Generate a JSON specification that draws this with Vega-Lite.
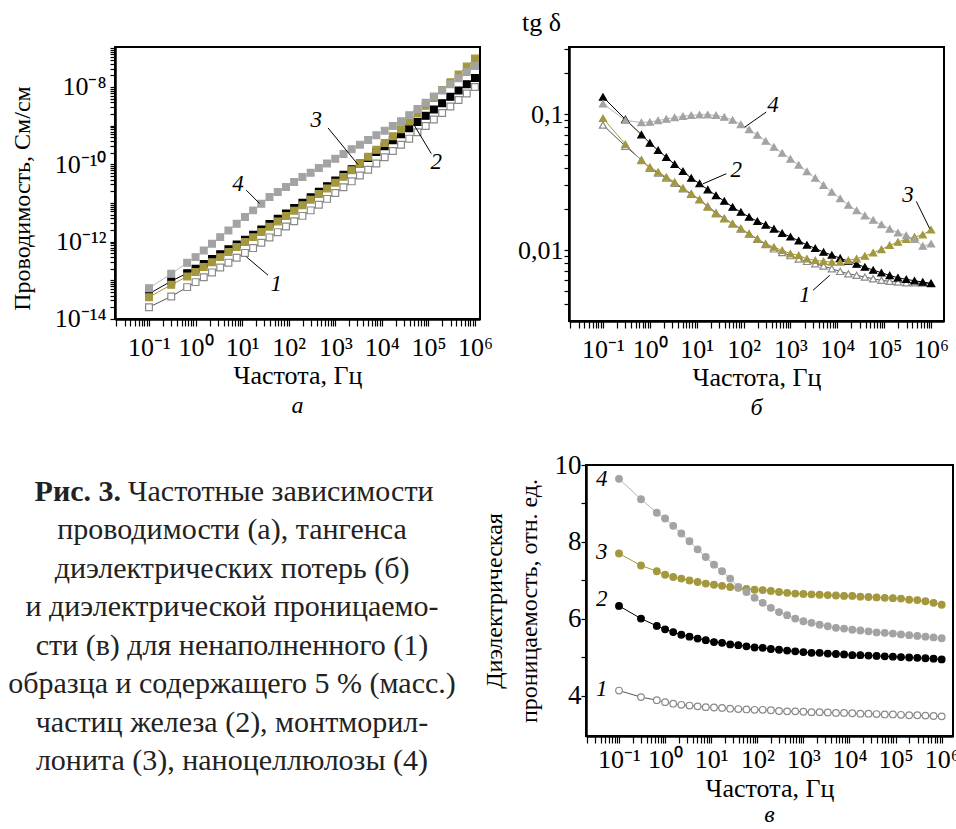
{
"$schema": "https://vega.github.io/schema/vega-lite/v6.json",
"background": "white",
"padding": {"left": 8, "top": 8, "right": 0, "bottom": 0},
"bounds": "flush",
"spacing": 418,
"datasets": {
"a": [
{"f":0.1,"s":1,"v":2.00e-14},{"f":0.3,"s":1,"v":3.79e-14},{"f":0.66,"s":1,"v":6.61e-14},{"f":1,"s":1,"v":8.91e-14},{"f":1.5,"s":1,"v":1.19e-13},{"f":2.25,"s":1,"v":1.59e-13},{"f":3.38,"s":1,"v":2.13e-13},{"f":5.08,"s":1,"v":2.84e-13},{"f":7.63,"s":1,"v":3.80e-13},{"f":11.5,"s":1,"v":5.08e-13},{"f":17.2,"s":1,"v":6.76e-13},{"f":25.8,"s":1,"v":9.29e-13},{"f":38.7,"s":1,"v":1.28e-12},{"f":58.2,"s":1,"v":1.75e-12},{"f":87.4,"s":1,"v":2.44e-12},{"f":131,"s":1,"v":3.35e-12},{"f":197,"s":1,"v":4.61e-12},{"f":296,"s":1,"v":6.40e-12},{"f":444,"s":1,"v":8.96e-12},{"f":666,"s":1,"v":1.27e-11},{"f":1000,"s":1,"v":1.80e-11},{"f":1500,"s":1,"v":2.55e-11},{"f":2250,"s":1,"v":3.61e-11},{"f":3380,"s":1,"v":5.10e-11},{"f":5080,"s":1,"v":7.23e-11},{"f":7630,"s":1,"v":1.04e-10},{"f":11500,"s":1,"v":1.51e-10},{"f":17200,"s":1,"v":2.20e-10},{"f":25800,"s":1,"v":3.18e-10},{"f":38700,"s":1,"v":4.59e-10},{"f":58200,"s":1,"v":6.70e-10},{"f":87400,"s":1,"v":9.77e-10},{"f":131000,"s":1,"v":1.44e-9},{"f":197000,"s":1,"v":2.12e-9},{"f":296000,"s":1,"v":3.13e-9},{"f":444000,"s":1,"v":4.61e-9},{"f":666000,"s":1,"v":6.79e-9},{"f":1000000,"s":1,"v":1.0e-8},
{"f":0.1,"s":2,"v":4.44e-14},{"f":0.3,"s":2,"v":9.45e-14},{"f":0.66,"s":2,"v":1.52e-13},{"f":1,"s":2,"v":1.97e-13},{"f":1.5,"s":2,"v":2.64e-13},{"f":2.25,"s":2,"v":3.52e-13},{"f":3.38,"s":2,"v":4.71e-13},{"f":5.08,"s":2,"v":6.30e-13},{"f":7.63,"s":2,"v":8.41e-13},{"f":11.5,"s":2,"v":1.12e-12},{"f":17.2,"s":2,"v":1.50e-12},{"f":25.8,"s":2,"v":2.06e-12},{"f":38.7,"s":2,"v":2.83e-12},{"f":58.2,"s":2,"v":3.89e-12},{"f":87.4,"s":2,"v":5.35e-12},{"f":131,"s":2,"v":7.35e-12},{"f":197,"s":2,"v":1.01e-11},{"f":296,"s":2,"v":1.39e-11},{"f":444,"s":2,"v":1.93e-11},{"f":666,"s":2,"v":2.70e-11},{"f":1000,"s":2,"v":3.79e-11},{"f":1500,"s":2,"v":5.31e-11},{"f":2250,"s":2,"v":7.45e-11},{"f":3380,"s":2,"v":1.04e-10},{"f":5080,"s":2,"v":1.46e-10},{"f":7630,"s":2,"v":2.07e-10},{"f":11500,"s":2,"v":2.94e-10},{"f":17200,"s":2,"v":4.20e-10},{"f":25800,"s":2,"v":6.00e-10},{"f":38700,"s":2,"v":8.59e-10},{"f":58200,"s":2,"v":1.24e-9},{"f":87400,"s":2,"v":1.79e-9},{"f":131000,"s":2,"v":2.61e-9},{"f":197000,"s":2,"v":3.81e-9},{"f":296000,"s":2,"v":5.56e-9},{"f":444000,"s":2,"v":8.11e-9},{"f":666000,"s":2,"v":1.18e-8},{"f":1000000,"s":2,"v":1.71e-8},
{"f":0.1,"s":3,"v":3.64e-14},{"f":0.3,"s":3,"v":7.59e-14},{"f":0.66,"s":3,"v":1.25e-13},{"f":1,"s":3,"v":1.62e-13},{"f":1.5,"s":3,"v":2.18e-13},{"f":2.25,"s":3,"v":2.93e-13},{"f":3.38,"s":3,"v":3.95e-13},{"f":5.08,"s":3,"v":5.33e-13},{"f":7.63,"s":3,"v":7.18e-13},{"f":11.5,"s":3,"v":9.66e-13},{"f":17.2,"s":3,"v":1.30e-12},{"f":25.8,"s":3,"v":1.77e-12},{"f":38.7,"s":3,"v":2.42e-12},{"f":58.2,"s":3,"v":3.32e-12},{"f":87.4,"s":3,"v":4.56e-12},{"f":131,"s":3,"v":6.27e-12},{"f":197,"s":3,"v":8.70e-12},{"f":296,"s":3,"v":1.21e-11},{"f":444,"s":3,"v":1.69e-11},{"f":666,"s":3,"v":2.37e-11},{"f":1000,"s":3,"v":3.33e-11},{"f":1500,"s":3,"v":4.71e-11},{"f":2250,"s":3,"v":6.95e-11},{"f":3380,"s":3,"v":1.04e-10},{"f":5080,"s":3,"v":1.57e-10},{"f":7630,"s":3,"v":2.36e-10},{"f":11500,"s":3,"v":3.55e-10},{"f":17200,"s":3,"v":5.33e-10},{"f":25800,"s":3,"v":8.01e-10},{"f":38700,"s":3,"v":1.28e-9},{"f":58200,"s":3,"v":2.04e-9},{"f":87400,"s":3,"v":3.25e-9},{"f":131000,"s":3,"v":5.19e-9},{"f":197000,"s":3,"v":8.28e-9},{"f":296000,"s":3,"v":1.32e-8},{"f":444000,"s":3,"v":2.11e-8},{"f":666000,"s":3,"v":3.36e-8},{"f":1000000,"s":3,"v":5.42e-8},
{"f":0.1,"s":4,"v":6.22e-14},{"f":0.3,"s":4,"v":1.46e-13},{"f":0.66,"s":4,"v":2.82e-13},{"f":1,"s":4,"v":3.95e-13},{"f":1.5,"s":4,"v":5.89e-13},{"f":2.25,"s":4,"v":8.75e-13},{"f":3.38,"s":4,"v":1.30e-12},{"f":5.08,"s":4,"v":1.94e-12},{"f":7.63,"s":4,"v":2.88e-12},{"f":11.5,"s":4,"v":4.30e-12},{"f":17.2,"s":4,"v":6.40e-12},{"f":25.8,"s":4,"v":9.52e-12},{"f":38.7,"s":4,"v":1.42e-11},{"f":58.2,"s":4,"v":1.91e-11},{"f":87.4,"s":4,"v":2.57e-11},{"f":131,"s":4,"v":3.46e-11},{"f":197,"s":4,"v":4.67e-11},{"f":296,"s":4,"v":6.04e-11},{"f":444,"s":4,"v":7.98e-11},{"f":666,"s":4,"v":1.05e-10},{"f":1000,"s":4,"v":1.39e-10},{"f":1500,"s":4,"v":1.84e-10},{"f":2250,"s":4,"v":2.43e-10},{"f":3380,"s":4,"v":3.21e-10},{"f":5080,"s":4,"v":4.24e-10},{"f":7630,"s":4,"v":5.60e-10},{"f":11500,"s":4,"v":7.40e-10},{"f":17200,"s":4,"v":9.77e-10},{"f":25800,"s":4,"v":1.29e-9},{"f":38700,"s":4,"v":1.86e-9},{"f":58200,"s":4,"v":2.69e-9},{"f":87400,"s":4,"v":3.89e-9},{"f":131000,"s":4,"v":5.62e-9},{"f":197000,"s":4,"v":8.11e-9},{"f":296000,"s":4,"v":1.17e-8},{"f":444000,"s":4,"v":1.68e-8},{"f":666000,"s":4,"v":2.42e-8},{"f":1000000,"s":4,"v":3.50e-8}
],
"aT": [{"f":8.15,"v":3.16e-11,"t":"4"},{"f":391,"v":1.38e-9,"t":"3"},{"f":147600,"v":1.15e-10,"t":"2"},{"f":54.2,"v":8.18e-14,"t":"1"}],
"aR": [{"f":12.3,"v":2.13e-11,"f2":23.8,"v2":9.6e-12},{"f":698,"v":8.71e-10,"f2":3076,"v2":9.8e-11},{"f":115300,"v":1.88e-10,"f2":50700,"v2":9.8e-10},{"f":35.9,"v":1.35e-13,"f2":12.3,"v2":4.02e-13}],
"b": [
{"f":0.1,"s":1,"v":0.0830},{"f":0.3,"s":1,"v":0.0580},{"f":0.66,"s":1,"v":0.0460},{"f":1,"s":1,"v":0.0400},{"f":1.5,"s":1,"v":0.0368},{"f":2.25,"s":1,"v":0.0338},{"f":3.38,"s":1,"v":0.0310},{"f":5.08,"s":1,"v":0.0282},{"f":7.63,"s":1,"v":0.0257},{"f":11.5,"s":1,"v":0.0234},{"f":17.2,"s":1,"v":0.0210},{"f":25.8,"s":1,"v":0.0188},{"f":38.7,"s":1,"v":0.0171},{"f":58.2,"s":1,"v":0.0156},{"f":87.4,"s":1,"v":0.0143},{"f":131,"s":1,"v":0.0131},{"f":197,"s":1,"v":0.0120},{"f":296,"s":1,"v":0.0110},{"f":444,"s":1,"v":0.0102},{"f":666,"s":1,"v":0.0096},{"f":1000,"s":1,"v":0.0091},{"f":1500,"s":1,"v":0.0086},{"f":2250,"s":1,"v":0.00826},{"f":3380,"s":1,"v":0.00793},{"f":5080,"s":1,"v":0.00763},{"f":7630,"s":1,"v":0.00729},{"f":11500,"s":1,"v":0.00697},{"f":17200,"s":1,"v":0.00669},{"f":25800,"s":1,"v":0.00652},{"f":38700,"s":1,"v":0.00633},{"f":58200,"s":1,"v":0.00615},{"f":87400,"s":1,"v":0.00599},{"f":131000,"s":1,"v":0.00589},{"f":197000,"s":1,"v":0.00582},{"f":296000,"s":1,"v":0.00575},{"f":444000,"s":1,"v":0.00575},{"f":666000,"s":1,"v":0.00572},{"f":1000000,"s":1,"v":0.00565},
{"f":0.1,"s":2,"v":0.1334},{"f":0.3,"s":2,"v":0.0914},{"f":0.66,"s":2,"v":0.0705},{"f":1,"s":2,"v":0.0612},{"f":1.5,"s":2,"v":0.0541},{"f":2.25,"s":2,"v":0.0481},{"f":3.38,"s":2,"v":0.0427},{"f":5.08,"s":2,"v":0.0379},{"f":7.63,"s":2,"v":0.0338},{"f":11.5,"s":2,"v":0.0308},{"f":17.2,"s":2,"v":0.0278},{"f":25.8,"s":2,"v":0.0252},{"f":38.7,"s":2,"v":0.0229},{"f":58.2,"s":2,"v":0.0207},{"f":87.4,"s":2,"v":0.0190},{"f":131,"s":2,"v":0.0175},{"f":197,"s":2,"v":0.0163},{"f":296,"s":2,"v":0.0153},{"f":444,"s":2,"v":0.0143},{"f":666,"s":2,"v":0.0133},{"f":1000,"s":2,"v":0.0125},{"f":1500,"s":2,"v":0.0117},{"f":2250,"s":2,"v":0.0109},{"f":3380,"s":2,"v":0.0103},{"f":5080,"s":2,"v":0.00966},{"f":7630,"s":2,"v":0.00918},{"f":11500,"s":2,"v":0.00872},{"f":17200,"s":2,"v":0.00829},{"f":25800,"s":2,"v":0.00788},{"f":38700,"s":2,"v":0.00749},{"f":58200,"s":2,"v":0.00713},{"f":87400,"s":2,"v":0.00681},{"f":131000,"s":2,"v":0.00651},{"f":197000,"s":2,"v":0.00626},{"f":296000,"s":2,"v":0.00609},{"f":444000,"s":2,"v":0.00595},{"f":666000,"s":2,"v":0.00582},{"f":1000000,"s":2,"v":0.00570},
{"f":0.1,"s":3,"v":0.0930},{"f":0.3,"s":3,"v":0.0600},{"f":0.66,"s":3,"v":0.0456},{"f":1,"s":3,"v":0.0407},{"f":1.5,"s":3,"v":0.0375},{"f":2.25,"s":3,"v":0.0344},{"f":3.38,"s":3,"v":0.0316},{"f":5.08,"s":3,"v":0.0286},{"f":7.63,"s":3,"v":0.0260},{"f":11.5,"s":3,"v":0.0236},{"f":17.2,"s":3,"v":0.0207},{"f":25.8,"s":3,"v":0.0185},{"f":38.7,"s":3,"v":0.0170},{"f":58.2,"s":3,"v":0.0156},{"f":87.4,"s":3,"v":0.0144},{"f":131,"s":3,"v":0.0132},{"f":197,"s":3,"v":0.0121},{"f":296,"s":3,"v":0.01113},{"f":444,"s":3,"v":0.01052},{"f":666,"s":3,"v":0.00995},{"f":1000,"s":3,"v":0.00940},{"f":1500,"s":3,"v":0.00915},{"f":2250,"s":3,"v":0.00863},{"f":3380,"s":3,"v":0.00840},{"f":5080,"s":3,"v":0.00826},{"f":7630,"s":3,"v":0.00816},{"f":11500,"s":3,"v":0.00816},{"f":17200,"s":3,"v":0.00840},{"f":25800,"s":3,"v":0.00863},{"f":38700,"s":3,"v":0.00904},{"f":58200,"s":3,"v":0.00955},{"f":87400,"s":3,"v":0.01011},{"f":131000,"s":3,"v":0.01083},{"f":197000,"s":3,"v":0.01146},{"f":296000,"s":3,"v":0.01199},{"f":444000,"s":3,"v":0.01247},{"f":666000,"s":3,"v":0.01296},{"f":1000000,"s":3,"v":0.01410},
{"f":0.1,"s":4,"v":0.1190},{"f":0.3,"s":4,"v":0.0899},{"f":0.66,"s":4,"v":0.0866},{"f":1,"s":4,"v":0.0873},{"f":1.5,"s":4,"v":0.0896},{"f":2.25,"s":4,"v":0.0919},{"f":3.38,"s":4,"v":0.0943},{"f":5.08,"s":4,"v":0.0962},{"f":7.63,"s":4,"v":0.0978},{"f":11.5,"s":4,"v":0.0988},{"f":17.2,"s":4,"v":0.0988},{"f":25.8,"s":4,"v":0.0978},{"f":38.7,"s":4,"v":0.0950},{"f":58.2,"s":4,"v":0.0903},{"f":87.4,"s":4,"v":0.0837},{"f":131,"s":4,"v":0.0769},{"f":197,"s":4,"v":0.0701},{"f":296,"s":4,"v":0.0633},{"f":444,"s":4,"v":0.0572},{"f":666,"s":4,"v":0.0516},{"f":1000,"s":4,"v":0.0467},{"f":1500,"s":4,"v":0.0422},{"f":2250,"s":4,"v":0.0378},{"f":3380,"s":4,"v":0.0338},{"f":5080,"s":4,"v":0.0300},{"f":7630,"s":4,"v":0.0267},{"f":11500,"s":4,"v":0.0239},{"f":17200,"s":4,"v":0.0214},{"f":25800,"s":4,"v":0.0195},{"f":38700,"s":4,"v":0.0179},{"f":58200,"s":4,"v":0.0166},{"f":87400,"s":4,"v":0.0154},{"f":131000,"s":4,"v":0.0143},{"f":197000,"s":4,"v":0.0134},{"f":296000,"s":4,"v":0.0128},{"f":444000,"s":4,"v":0.0120},{"f":666000,"s":4,"v":0.0107},{"f":1000000,"s":4,"v":0.0111}
],
"bT": [{"f":425,"v":0.116,"t":"4"},{"f":70,"v":0.0385,"t":"2"},{"f":323000,"v":0.0252,"t":"3"},{"f":2014,"v":0.00465,"t":"1"}],
"bR": [{"f":305,"v":0.1035,"f2":106,"v2":0.0802},{"f":42.8,"v":0.0364,"f2":13.6,"v2":0.0307},{"f":485000,"v":0.0228,"f2":937000,"v2":0.01436},{"f":3027,"v":0.00506,"f2":6890,"v2":0.00652}],
"c": [
{"f":0.1,"s":1,"v":4.14},{"f":0.3,"s":1,"v":3.97},{"f":0.66,"s":1,"v":3.89},{"f":1,"s":1,"v":3.84},{"f":1.5,"s":1,"v":3.80},{"f":2.25,"s":1,"v":3.77},{"f":3.38,"s":1,"v":3.75},{"f":5.08,"s":1,"v":3.73},{"f":7.63,"s":1,"v":3.71},{"f":11.5,"s":1,"v":3.70},{"f":17.2,"s":1,"v":3.69},{"f":25.8,"s":1,"v":3.67},{"f":38.7,"s":1,"v":3.66},{"f":58.2,"s":1,"v":3.65},{"f":87.4,"s":1,"v":3.64},{"f":131,"s":1,"v":3.64},{"f":197,"s":1,"v":3.63},{"f":296,"s":1,"v":3.61},{"f":444,"s":1,"v":3.60},{"f":666,"s":1,"v":3.60},{"f":1000,"s":1,"v":3.59},{"f":1500,"s":1,"v":3.58},{"f":2250,"s":1,"v":3.58},{"f":3380,"s":1,"v":3.57},{"f":5080,"s":1,"v":3.56},{"f":7630,"s":1,"v":3.56},{"f":11500,"s":1,"v":3.55},{"f":17200,"s":1,"v":3.54},{"f":25800,"s":1,"v":3.54},{"f":38700,"s":1,"v":3.53},{"f":58200,"s":1,"v":3.52},{"f":87400,"s":1,"v":3.52},{"f":131000,"s":1,"v":3.51},{"f":197000,"s":1,"v":3.50},{"f":296000,"s":1,"v":3.50},{"f":444000,"s":1,"v":3.49},{"f":666000,"s":1,"v":3.48},{"f":1000000,"s":1,"v":3.47},
{"f":0.1,"s":2,"v":6.34},{"f":0.3,"s":2,"v":6.01},{"f":0.66,"s":2,"v":5.82},{"f":1,"s":2,"v":5.73},{"f":1.5,"s":2,"v":5.66},{"f":2.25,"s":2,"v":5.59},{"f":3.38,"s":2,"v":5.54},{"f":5.08,"s":2,"v":5.49},{"f":7.63,"s":2,"v":5.45},{"f":11.5,"s":2,"v":5.40},{"f":17.2,"s":2,"v":5.38},{"f":25.8,"s":2,"v":5.34},{"f":38.7,"s":2,"v":5.32},{"f":58.2,"s":2,"v":5.29},{"f":87.4,"s":2,"v":5.26},{"f":131,"s":2,"v":5.25},{"f":197,"s":2,"v":5.22},{"f":296,"s":2,"v":5.20},{"f":444,"s":2,"v":5.18},{"f":666,"s":2,"v":5.16},{"f":1000,"s":2,"v":5.14},{"f":1500,"s":2,"v":5.12},{"f":2250,"s":2,"v":5.12},{"f":3380,"s":2,"v":5.10},{"f":5080,"s":2,"v":5.09},{"f":7630,"s":2,"v":5.08},{"f":11500,"s":2,"v":5.06},{"f":17200,"s":2,"v":5.06},{"f":25800,"s":2,"v":5.05},{"f":38700,"s":2,"v":5.04},{"f":58200,"s":2,"v":5.03},{"f":87400,"s":2,"v":5.02},{"f":131000,"s":2,"v":5.01},{"f":197000,"s":2,"v":5.00},{"f":296000,"s":2,"v":4.99},{"f":444000,"s":2,"v":4.98},{"f":666000,"s":2,"v":4.97},{"f":1000000,"s":2,"v":4.95},
{"f":0.1,"s":3,"v":7.70},{"f":0.3,"s":3,"v":7.39},{"f":0.66,"s":3,"v":7.24},{"f":1,"s":3,"v":7.15},{"f":1.5,"s":3,"v":7.09},{"f":2.25,"s":3,"v":7.05},{"f":3.38,"s":3,"v":7.00},{"f":5.08,"s":3,"v":6.96},{"f":7.63,"s":3,"v":6.92},{"f":11.5,"s":3,"v":6.89},{"f":17.2,"s":3,"v":6.86},{"f":25.8,"s":3,"v":6.83},{"f":38.7,"s":3,"v":6.81},{"f":58.2,"s":3,"v":6.78},{"f":87.4,"s":3,"v":6.76},{"f":131,"s":3,"v":6.75},{"f":197,"s":3,"v":6.73},{"f":296,"s":3,"v":6.70},{"f":444,"s":3,"v":6.68},{"f":666,"s":3,"v":6.66},{"f":1000,"s":3,"v":6.65},{"f":1500,"s":3,"v":6.64},{"f":2250,"s":3,"v":6.63},{"f":3380,"s":3,"v":6.62},{"f":5080,"s":3,"v":6.61},{"f":7630,"s":3,"v":6.60},{"f":11500,"s":3,"v":6.60},{"f":17200,"s":3,"v":6.58},{"f":25800,"s":3,"v":6.57},{"f":38700,"s":3,"v":6.56},{"f":58200,"s":3,"v":6.55},{"f":87400,"s":3,"v":6.54},{"f":131000,"s":3,"v":6.53},{"f":197000,"s":3,"v":6.50},{"f":296000,"s":3,"v":6.49},{"f":444000,"s":3,"v":6.46},{"f":666000,"s":3,"v":6.42},{"f":1000000,"s":3,"v":6.37},
{"f":0.1,"s":4,"v":9.64},{"f":0.3,"s":4,"v":9.11},{"f":0.66,"s":4,"v":8.76},{"f":1,"s":4,"v":8.61},{"f":1.5,"s":4,"v":8.42},{"f":2.25,"s":4,"v":8.22},{"f":3.38,"s":4,"v":8.02},{"f":5.08,"s":4,"v":7.81},{"f":7.63,"s":4,"v":7.61},{"f":11.5,"s":4,"v":7.41},{"f":17.2,"s":4,"v":7.24},{"f":25.8,"s":4,"v":7.05},{"f":38.7,"s":4,"v":6.83},{"f":58.2,"s":4,"v":6.70},{"f":87.4,"s":4,"v":6.55},{"f":131,"s":4,"v":6.42},{"f":197,"s":4,"v":6.29},{"f":296,"s":4,"v":6.18},{"f":444,"s":4,"v":6.10},{"f":666,"s":4,"v":6.01},{"f":1000,"s":4,"v":5.94},{"f":1500,"s":4,"v":5.90},{"f":2250,"s":4,"v":5.85},{"f":3380,"s":4,"v":5.81},{"f":5080,"s":4,"v":5.77},{"f":7630,"s":4,"v":5.75},{"f":11500,"s":4,"v":5.72},{"f":17200,"s":4,"v":5.70},{"f":25800,"s":4,"v":5.68},{"f":38700,"s":4,"v":5.65},{"f":58200,"s":4,"v":5.64},{"f":87400,"s":4,"v":5.62},{"f":131000,"s":4,"v":5.60},{"f":197000,"s":4,"v":5.58},{"f":296000,"s":4,"v":5.56},{"f":444000,"s":4,"v":5.54},{"f":666000,"s":4,"v":5.52},{"f":1000000,"s":4,"v":5.50}
],
"cT": [{"f":0.0421,"v":9.64,"t":"4"},{"f":0.0421,"v":7.74,"t":"3"},{"f":0.0421,"v":6.53,"t":"2"},{"f":0.0421,"v":4.19,"t":"1"}],
"cap": [{"line":2,"t":"проводимости (а), тангенса"},{"line":3,"t":"диэлектрических потерь (б)"},{"line":4,"t":"и диэлектрической проницаемо-"},{"line":5,"t":"сти (в) для ненаполненного (1)"},{"line":6,"t":"образца и содержащего 5 % (масс.)"},{"line":7,"t":"частиц железа (2), монтморил-"},{"line":8,"t":"лонита (3), наноцеллюлозы (4)"}],
"cap1": [{"line":1,"t":"Частотные зависимости"}],
"cap1b": [{"line":1,"t":"Рис. 3."}]
},
"vconcat": [
{
"hconcat": [
{
"width": 365, "height": 272,
"title": {"text": "а"},
"encoding": {
"x": {"field":"f","type":"quantitative","scale":{"type":"log","domain":[0.01862,1282000],"nice":false},
"axis":{"title":"Частота, Гц","tickCount":20,"labelExpr":"abs(log(datum.value)/LN10-round(log(datum.value)/LN10))<0.01 ? ['10⁻¹','10⁰','10¹','10²','10³','10⁴','10⁵','10⁶'][round(log(datum.value)/LN10)+1] : ''"}},
"y": {"field":"v","type":"quantitative","scale":{"type":"log","domain":[9.9e-15,1.08e-7],"nice":false},
"axis":{"title":"Проводимость, См/см","titleFontSize":24,"tickCount":20,"titleY":151,"tickSize":5,"labelPadding":4,"titlePadding":20,"labelExpr":"abs(log(datum.value)/LN10-round(log(datum.value)/LN10))<0.01 ? (round(log(datum.value)/LN10)==-8 ? '10⁻⁸' : round(log(datum.value)/LN10)==-10 ? '10⁻¹⁰' : round(log(datum.value)/LN10)==-12 ? '10⁻¹²' : round(log(datum.value)/LN10)==-14 ? '10⁻¹⁴' : '') : ''"}}
},
"layer": [
{"data":{"name":"a"},"mark":{"type":"line","strokeWidth":1},"encoding":{"color":{"field":"s","type":"nominal","scale":{"domain":[1,2,3,4],"range":["#555555","#000000","#a3983e","#b5b5b5"]},"legend":null}}},
{"data":{"name":"a"},"mark":{"type":"point","shape":"square","filled":true,"size":46,"strokeWidth":1.2,"opacity":1},"encoding":{"fill":{"field":"s","type":"nominal","scale":{"domain":[1,2,3,4],"range":["white","black","#a3983e","#a3a3a3"]},"legend":null},"stroke":{"field":"s","type":"nominal","scale":{"domain":[1,2,3,4],"range":["#8a8a8a","black","#a3983e","#a3a3a3"]},"legend":null}}},
{"data":{"name":"aR"},"mark":{"type":"rule","color":"black","strokeWidth":1},"encoding":{"x2":{"field":"f2"},"y2":{"field":"v2"}}},
{"data":{"name":"aT"},"mark":{"type":"text","font":"Liberation Serif","fontStyle":"italic","fontSize":23,"align":"center","baseline":"middle","color":"black"},"encoding":{"text":{"field":"t"}}}
]
},
{
"width": 375, "height": 274,
"title": {"text": "б"},
"encoding": {
"x": {"field":"f","type":"quantitative","scale":{"type":"log","domain":[0.01881,1890000],"nice":false},
"axis":{"title":"Частота, Гц","tickCount":20,"labelExpr":"abs(log(datum.value)/LN10-round(log(datum.value)/LN10))<0.01 ? ['10⁻¹','10⁰','10¹','10²','10³','10⁴','10⁵','10⁶'][round(log(datum.value)/LN10)+1] : ''"}},
"y": {"field":"v","type":"quantitative","scale":{"type":"log","domain":[0.00301,0.311],"nice":false},
"axis":{"title":"tg δ","titleFontSize":26,"titleAngle":0,"titleX":-28,"titleY":-25,"titleAlign":"center","titleBaseline":"middle","tickCount":20,"tickSize":5,"labelPadding":1,"labelExpr":"abs(datum.value-0.1)<1e-6 ? '0,1' : abs(datum.value-0.01)<1e-7 ? '0,01' : ''"}}
},
"layer": [
{"data":{"name":"b"},"mark":{"type":"line","strokeWidth":1},"encoding":{"color":{"field":"s","type":"nominal","scale":{"domain":[1,2,3,4],"range":["#555555","#000000","#a3983e","#b5b5b5"]},"legend":null}}},
{"data":{"name":"b"},"mark":{"type":"point","shape":"triangle-up","filled":true,"size":52,"strokeWidth":1.2,"opacity":1},"encoding":{"fill":{"field":"s","type":"nominal","scale":{"domain":[1,2,3,4],"range":["white","black","#a3983e","#a3a3a3"]},"legend":null},"stroke":{"field":"s","type":"nominal","scale":{"domain":[1,2,3,4],"range":["#8a8a8a","black","#a3983e","#a3a3a3"]},"legend":null}}},
{"data":{"name":"bR"},"mark":{"type":"rule","color":"black","strokeWidth":1},"encoding":{"x2":{"field":"f2"},"y2":{"field":"v2"}}},
{"data":{"name":"bT"},"mark":{"type":"text","font":"Liberation Serif","fontStyle":"italic","fontSize":23,"align":"center","baseline":"middle","color":"black"},"encoding":{"text":{"field":"t"}}}
]
}
],
"spacing": 89,
"bounds": "flush"
},
{
"hconcat": [
{
"width": 424, "height": 323,
"view": {"stroke": null},
"layer": [
{"data":{"name":"cap"},"mark":{"type":"text","font":"Liberation Serif","fontSize":30,"align":"center","baseline":"middle","dx":-95,"color":"#222222"},
"encoding":{"y":{"field":"line","type":"ordinal","scale":{"type":"point","domain":[1,2,3,4,5,6,7,8],"padding":0.703},"axis":null},"text":{"field":"t"}}},
{"data":{"name":"cap1"},"mark":{"type":"text","font":"Liberation Serif","fontSize":30,"align":"left","baseline":"middle","dx":-199,"color":"#222222"},
"encoding":{"y":{"field":"line","type":"ordinal","scale":{"type":"point","domain":[1,2,3,4,5,6,7,8],"padding":0.703},"axis":null},"text":{"field":"t"}}},
{"data":{"name":"cap1b"},"mark":{"type":"text","font":"Liberation Serif","fontSize":30,"fontWeight":"bold","align":"right","baseline":"middle","dx":-206,"color":"#222222"},
"encoding":{"y":{"field":"line","type":"ordinal","scale":{"type":"point","domain":[1,2,3,4,5,6,7,8],"padding":0.703},"axis":null},"text":{"field":"t"}}}
]
},
{
"width": 367, "height": 271,
"title": {"text": "в", "offset": 2},
"encoding": {
"x": {"field":"f","type":"quantitative","scale":{"type":"log","domain":[0.01923,1760000],"nice":false},
"axis":{"title":"Частота, Гц","tickCount":20,"labelPadding":3,"titlePadding":3,"labelExpr":"abs(log(datum.value)/LN10-round(log(datum.value)/LN10))<0.01 ? ['10⁻¹','10⁰','10¹','10²','10³','10⁴','10⁵','10⁶'][round(log(datum.value)/LN10)+1] : ''"}},
"y": {"field":"v","type":"quantitative","scale":{"domain":[2.96,10],"nice":false,"zero":false},
"axis":{"title":["Диэлектрическая","проницаемость, отн. ед."],"titleFontSize":24,"titleLineHeight":35,"titlePadding":13,"values":[4,5,6,7,8,9,10],"tickSize":5,"labelPadding":0,"labelFontSize":27,"labelExpr":"datum.value % 2 == 0 ? datum.label : ''"}}
},
"layer": [
{"data":{"name":"c"},"mark":{"type":"line","strokeWidth":1},"encoding":{"color":{"field":"s","type":"nominal","scale":{"domain":[1,2,3,4],"range":["#555555","#000000","#a3983e","#b5b5b5"]},"legend":null}}},
{"data":{"name":"c"},"mark":{"type":"point","shape":"circle","filled":true,"size":44,"strokeWidth":1.2,"opacity":1},"encoding":{"fill":{"field":"s","type":"nominal","scale":{"domain":[1,2,3,4],"range":["white","black","#a3983e","#a3a3a3"]},"legend":null},"stroke":{"field":"s","type":"nominal","scale":{"domain":[1,2,3,4],"range":["#8a8a8a","black","#a3983e","#a3a3a3"]},"legend":null}}},
{"data":{"name":"cT"},"mark":{"type":"text","font":"Liberation Serif","fontStyle":"italic","fontSize":23,"align":"center","baseline":"middle","color":"black"},"encoding":{"text":{"field":"t"}}}
]
}
],
"spacing": 47,
"bounds": "flush"
}
],
"config": {
"font": "Liberation Serif",
"view": {"stroke": "black", "strokeWidth": 2},
"axis": {"labelFont":"Liberation Serif","labelFontSize":26,"labelColor":"black","titleFont":"Liberation Serif","titleFontSize":26,"titleFontWeight":"normal","titleColor":"black","domainColor":"black","domainWidth":2.5,"tickColor":"black","tickWidth":1.2,"tickSize":7,"grid":false,"labelOverlap":false,"labelFlush":false,"labelPadding":8,"titlePadding":2},
"title": {"orient":"bottom","font":"Liberation Serif","fontSize":24,"fontStyle":"italic","fontWeight":"normal","color":"black","offset":6,"anchor":"middle"}
}
}
